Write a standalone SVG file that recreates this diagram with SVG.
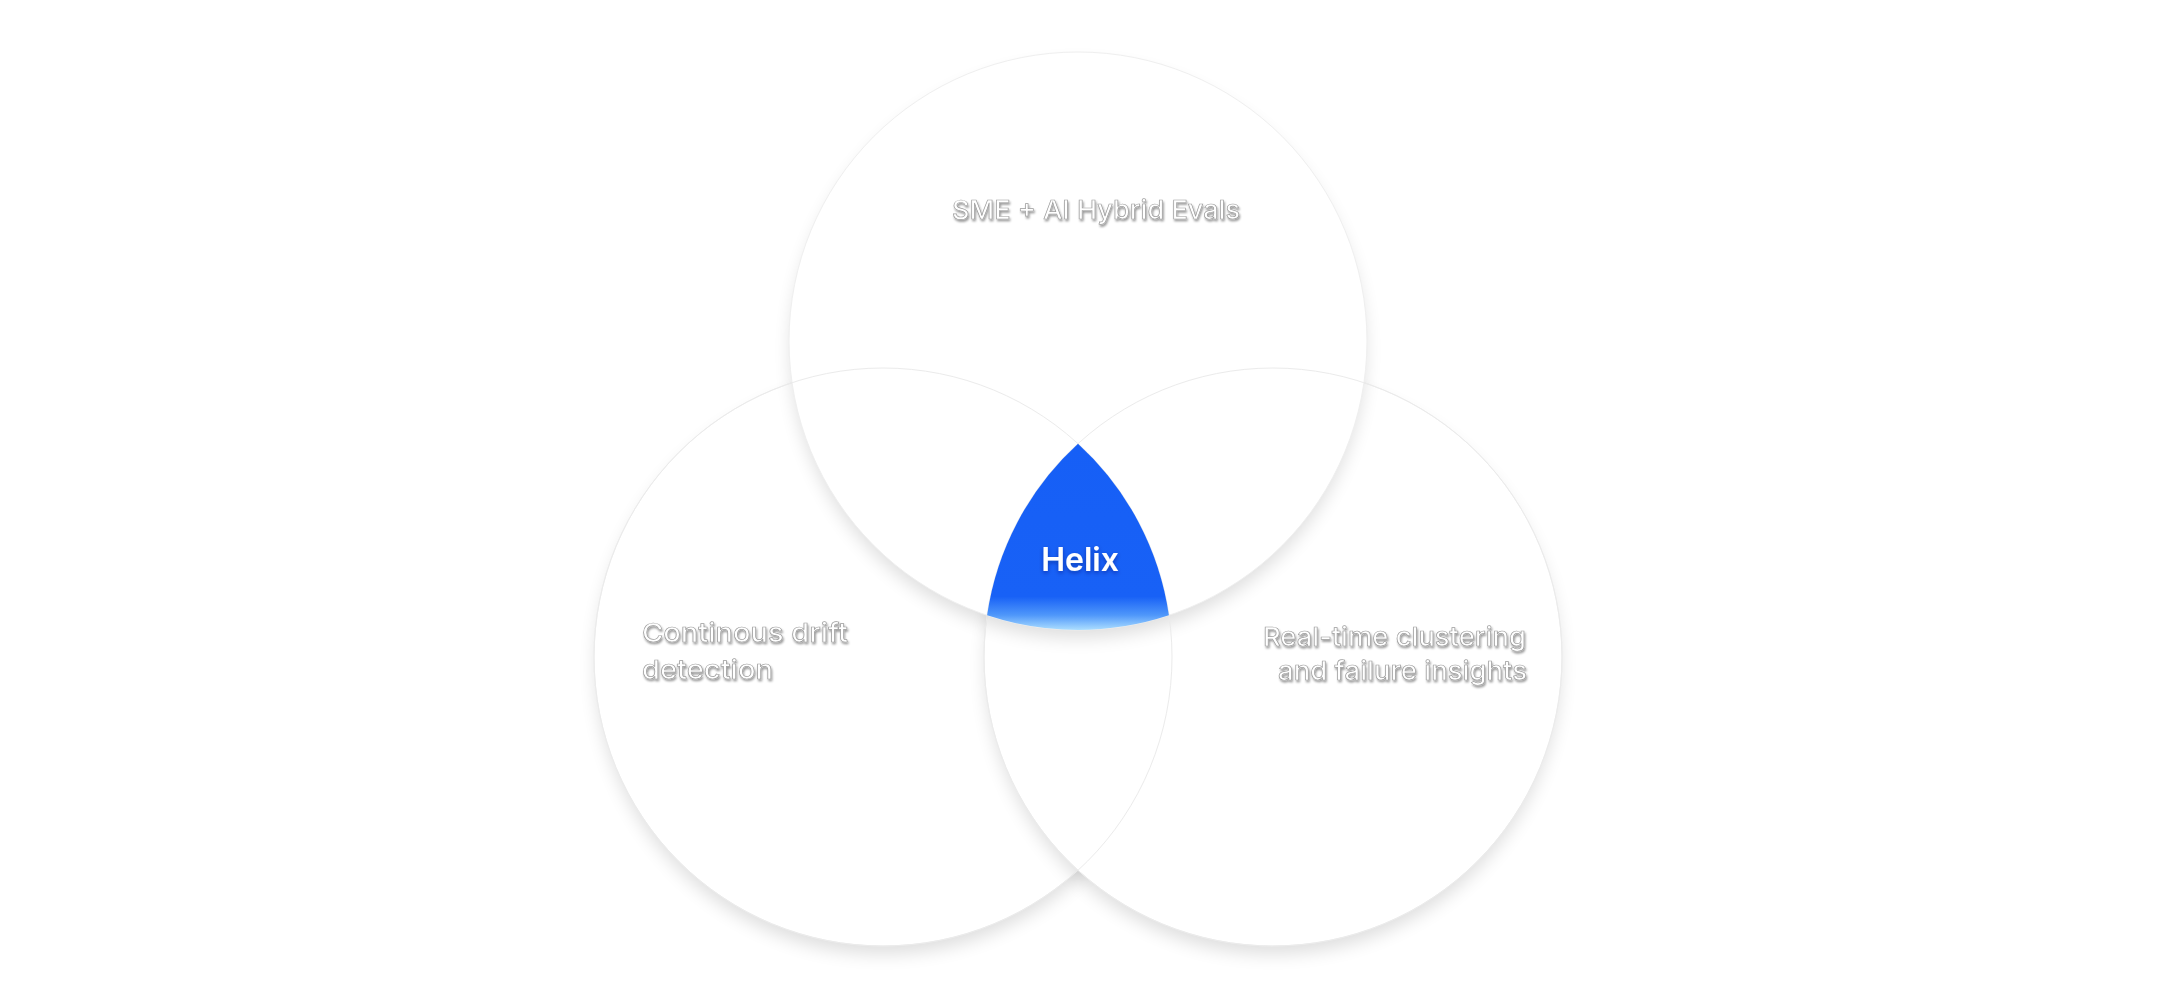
<svg xmlns="http://www.w3.org/2000/svg" width="2160" height="998" viewBox="0 0 2160 998">
<defs>
<style>
.shadow{fill:#000;opacity:0.13;filter:url(#blur)}
.circle{fill:#fff;stroke:#efefef;stroke-width:1}
.label{font-family:Inter,"Liberation Sans",sans-serif;font-size:26px;font-weight:500;fill:#fff;stroke:#9c9c9c;stroke-width:0.7px;filter:url(#ts)}
.helix{font-family:Inter,"Liberation Sans",sans-serif;font-size:32px;font-weight:600;fill:#fff;filter:url(#hs)}
</style>
<filter id="blur" x="-20%" y="-20%" width="140%" height="140%"><feGaussianBlur stdDeviation="9"/></filter>
<filter id="ts" x="-10%" y="-30%" width="120%" height="160%"><feDropShadow dx="1" dy="2" stdDeviation="0.8" flood-color="#000" flood-opacity="0.4"/></filter>
<filter id="hs" x="-20%" y="-30%" width="140%" height="160%"><feDropShadow dx="0" dy="2" stdDeviation="2" flood-color="#001a66" flood-opacity="0.45"/></filter>
<linearGradient id="blue" gradientUnits="userSpaceOnUse" x1="0" y1="444" x2="0" y2="630">
<stop offset="0" stop-color="#165ff6"/>
<stop offset="0.82" stop-color="#1861f6"/>
<stop offset="0.92" stop-color="#4f97fa"/>
<stop offset="1" stop-color="#acdeff"/>
</linearGradient>
</defs>
<rect width="2160" height="998" fill="#fff"/>
<g id="left-circle">
<circle class="shadow" cx="883" cy="667" r="287"/>
<circle class="circle" cx="883" cy="657" r="289"/>
</g>
<g id="right-circle">
<circle class="shadow" cx="1273" cy="667" r="287"/>
<circle class="circle" cx="1273" cy="657" r="289"/>
</g>
<g id="top-circle">
<circle class="shadow" cx="1078" cy="351" r="287"/>
<circle class="circle" cx="1078" cy="341" r="289"/>
</g>
<g id="outlines" fill="none" stroke="#ebebeb" stroke-width="1">
<circle cx="883" cy="657" r="289"/>
<circle cx="1273" cy="657" r="289"/>
</g>
<g id="label-top">
<text class="label" x="952" y="219" textLength="288" lengthAdjust="spacingAndGlyphs">SME + AI Hybrid Evals</text>
</g>
<g id="label-left">
<text class="label" x="642" y="642" textLength="206" lengthAdjust="spacingAndGlyphs">Continous drift</text>
<text class="label" x="642" y="679" textLength="131" lengthAdjust="spacingAndGlyphs">detection</text>
</g>
<g id="label-right">
<text class="label" x="1263" y="646" textLength="263" lengthAdjust="spacingAndGlyphs">Real-time clustering</text>
<text class="label" x="1278" y="680" textLength="249" lengthAdjust="spacingAndGlyphs">and failure insights</text>
</g>
<g id="helix">
<path d="M1078 443.7 A289 289 0 0 1 1168.9 615.3 A289 289 0 0 1 987.1 615.3 A289 289 0 0 1 1078 443.7 Z" fill="url(#blue)"/>
<text class="helix" x="1080" y="571" text-anchor="middle">Helix</text>
</g>
</svg>
